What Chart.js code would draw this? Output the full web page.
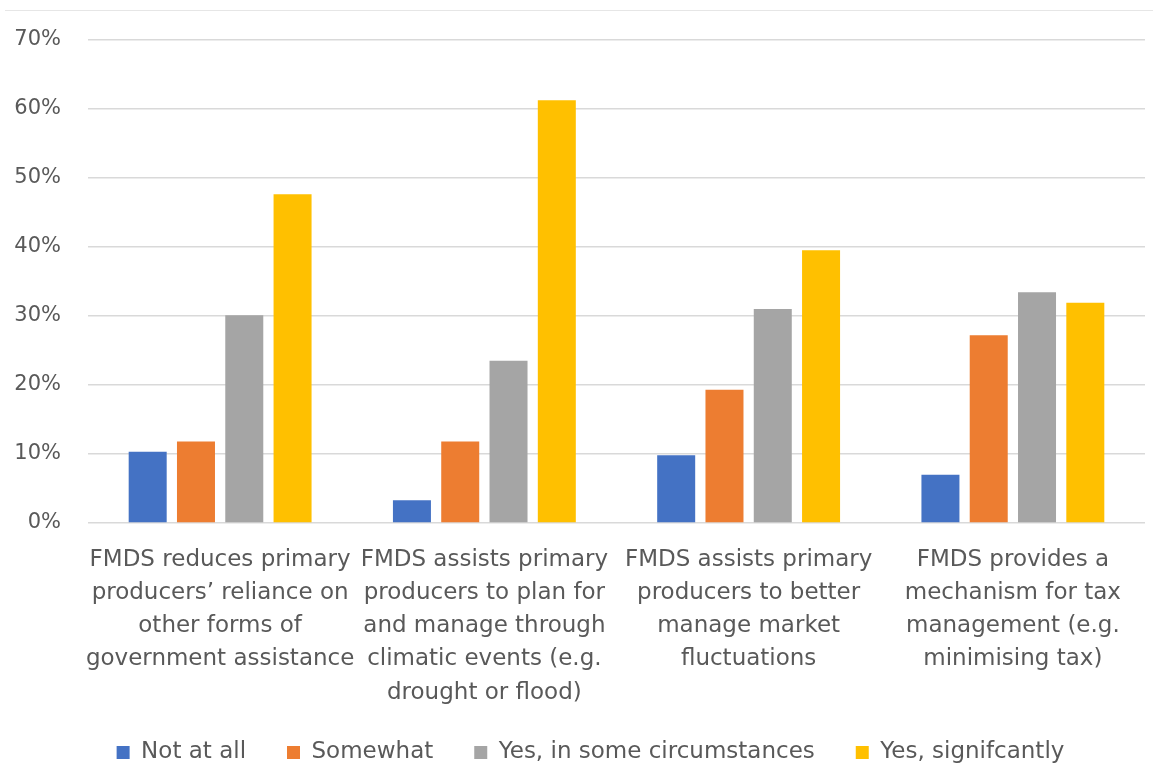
<!DOCTYPE html>
<html>
<head>
<meta charset="utf-8">
<script src="https://cdn.jsdelivr.net/npm/chart.js@4"></script>
<style>
  html, body { margin: 0; padding: 0; background: #ffffff; }
  #wrap { position: relative; width: 1153px; height: 765px; }
  #topline { position: absolute; left: 5px; right: 0; top: 10px; height: 0; border-top: 1px solid #e6e6e6; }
  canvas { display: block; }
</style>
</head>
<body>
<div id="wrap">
  <div id="topline"></div>
  <canvas id="chart" width="1153" height="765"></canvas>
</div>
<script>
// Survey statements (wrapped into lines as shown under the axis)
const categories = [
  ["FMDS reduces primary", "producers\u2019 reliance on", "other forms of", "government assistance"],
  ["FMDS assists primary", "producers to plan for", "and manage through", "climatic events (e.g.", "drought or flood)"],
  ["FMDS assists primary", "producers to better", "manage market", "fluctuations"],
  ["FMDS provides a", "mechanism for tax", "management (e.g.", "minimising tax)"]
];

// Share of respondents per answer (%)
const notAtAll      = [10.3, 3.3, 9.8, 7.0];
const somewhat      = [11.8, 11.8, 19.3, 27.2];
const someCircum    = [30.1, 23.5, 31.0, 33.4];
const significantly = [47.6, 61.2, 39.5, 31.9];

const seriesNames = ["Not at all", "Somewhat", "Yes, in some circumstances", "Yes, signifcantly"];
const seriesColors = ["#4472C4", "#ED7D31", "#A5A5A5", "#FFC000"];

const yTicks = [0, 10, 20, 30, 40, 50, 60, 70];

const FONT = "'DejaVu Sans', 'Liberation Sans', sans-serif";
const TEXT = "#595959";

const LEFT_PAD = 36;   // shifts the centred legend to the right
const AXIS_EDGE = 88;  // x position where the plot area starts

const datasets = [notAtAll, somewhat, someCircum, significantly].map((vals, i) => ({
  label: seriesNames[i],
  data: vals,
  backgroundColor: seriesColors[i],
  borderWidth: 0,
  categoryPercentage: 0.731,
  barPercentage: 0.787
}));

// Widen the label clip boxes: the category labels run a little below the
// reserved x band, and the y labels extend into the left padding.
const labelRoom = {
  id: "labelRoom",
  afterLayout(chart) {
    chart.scales.x.bottom += 30;
    chart.scales.y.left -= LEFT_PAD;
  }
};

new Chart(document.getElementById("chart"), {
  type: "bar",
  data: { labels: categories, datasets },
  plugins: [labelRoom],
  options: {
    responsive: false,
    animation: false,
    layout: { padding: { left: LEFT_PAD, right: 8, top: 35, bottom: -9 } },
    plugins: {
      tooltip: { enabled: false },
      legend: {
        position: "bottom",
        labels: {
          color: TEXT,
          font: { family: FONT, size: 23 },
          boxWidth: 13,
          boxHeight: 13,
          padding: 41
        }
      }
    },
    scales: {
      x: {
        afterFit: (s) => { s.height = 177; },
        grid: { display: false, drawTicks: false },
        border: { display: false },
        ticks: {
          color: TEXT,
          font: { family: FONT, size: 23, lineHeight: 1.445 },
          padding: 20,
          maxRotation: 0,
          autoSkip: false
        }
      },
      y: {
        min: 0,
        max: 70,
        afterFit: (s) => { s.width = AXIS_EDGE - LEFT_PAD; },
        afterBuildTicks: (s) => { s.ticks = yTicks.map(v => ({ value: v })); },
        grid: { color: "#d9d9d9", lineWidth: 1.5, drawTicks: false },
        border: { display: false },
        ticks: {
          color: TEXT,
          font: { family: FONT, size: 21 },
          padding: 27,
          callback: (v) => v + "%"
        }
      }
    }
  }
});
</script>
</body>
</html>
